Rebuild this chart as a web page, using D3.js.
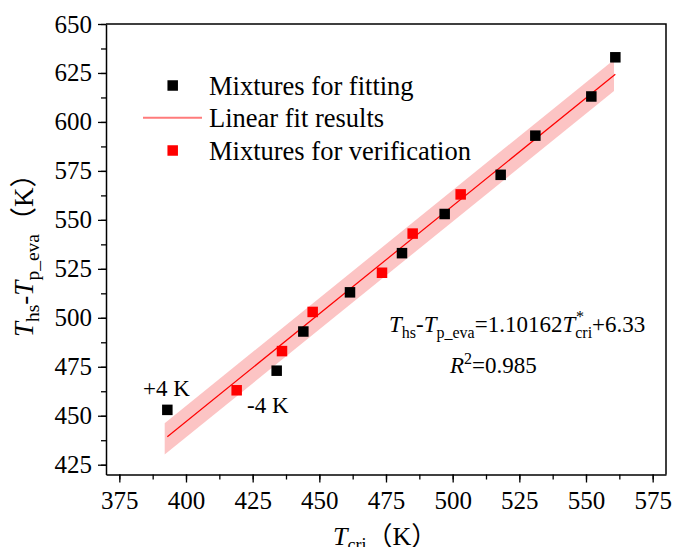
<!DOCTYPE html>
<html>
<head>
<meta charset="utf-8">
<script src="https://d3js.org/d3.v7.min.js"></script>
<style>
  body { margin: 0; background: #fff; }
  svg { font-family: "Liberation Serif", "Times New Roman", serif; }
</style>
</head>
<body>
<svg id="chart" width="673" height="547"></svg>
<script>
"use strict";

var width  = 673,
    height = 547;

// data
var fitX = [393, 434, 444, 461.5, 481, 497, 518, 531, 552, 561],
    fitY = [453, 473, 493, 513, 533, 553, 573, 593, 613, 633];
var verX = [419, 436, 447.5, 473.5, 485, 503],
    verY = [463, 483, 503, 523, 543, 563];
var slope = 1.10162, intercept = 6.33,
    fitRange = [393, 561],
    bandRange = [392, 560.5],
    bandHalf = 8;
var xTicks = [375, 400, 425, 450, 475, 500, 525, 550, 575],
    yTicks = [425, 450, 475, 500, 525, 550, 575, 600, 625, 650];
var legendLabels = ["Mixtures for fitting", "Linear fit results", "Mixtures for verification"];

var serif = "Liberation Serif";
var svg = d3.select("#chart");

var x = d3.scaleLinear().domain([370, 580]).range([106, 666]);
var y = d3.scaleLinear().domain([420, 650]).range([474.5, 24]);

function fit(v) { return slope * v + intercept; }

// band
var band = [
    [bandRange[0], fit(bandRange[0]) + bandHalf],
    [bandRange[1], fit(bandRange[1]) + bandHalf],
    [bandRange[1], fit(bandRange[1]) - bandHalf],
    [bandRange[0], fit(bandRange[0]) - bandHalf]
];
svg.append("path")
    .attr("d", d3.line().x(function(d) { return x(d[0]); }).y(function(d) { return y(d[1]); })(band) + "Z")
    .style("fill", "#fcc4c4");

svg.append("line")
    .attr("x1", x(fitRange[0])).attr("y1", y(fit(fitRange[0])))
    .attr("x2", x(fitRange[1])).attr("y2", y(fit(fitRange[1])))
    .style("stroke", "#ff0000")
    .style("stroke-width", 1.2);

// markers
var ms = 10.5;
svg.append("g").selectAll("rect")
    .data(fitX.map(function(d, i) { return [d, fitY[i]]; }))
    .enter().append("rect")
    .attr("x", function(d) { return x(d[0]) - ms / 2; })
    .attr("y", function(d) { return y(d[1]) - ms / 2; })
    .attr("width", ms).attr("height", ms)
    .style("fill", "#000");

svg.append("g").selectAll("rect")
    .data(verX.map(function(d, i) { return [d, verY[i]]; }))
    .enter().append("rect")
    .attr("x", function(d) { return x(d[0]) - ms / 2; })
    .attr("y", function(d) { return y(d[1]) - ms / 2; })
    .attr("width", ms).attr("height", ms)
    .style("fill", "#ff0000");

// axes
var xMinor = d3.range(375, 580, 12.5),
    yMinor = d3.range(425, 651, 12.5);

var xAxis = svg.append("g")
    .attr("transform", "translate(0," + y.range()[0] + ")")
    .call(d3.axisBottom(x).tickValues(xMinor).tickSize(5).tickFormat(""));
xAxis.select(".domain").remove();
var xAxisMajor = svg.append("g")
    .attr("transform", "translate(0," + y.range()[0] + ")")
    .call(d3.axisBottom(x).tickValues(xTicks).tickSize(8).tickPadding(9).tickSizeOuter(0))
    .attr("font-family", serif).attr("font-size", 25);
xAxisMajor.selectAll("text").attr("fill", "#000");

var yAxis = svg.append("g")
    .attr("transform", "translate(" + x.range()[0] + ",0)")
    .call(d3.axisLeft(y).tickValues(yMinor).tickSize(5).tickFormat(""));
yAxis.select(".domain").remove();
var yAxisMajor = svg.append("g")
    .attr("transform", "translate(" + x.range()[0] + ",0)")
    .call(d3.axisLeft(y).tickValues(yTicks).tickSize(8).tickPadding(6).tickSizeOuter(0))
    .attr("font-family", serif).attr("font-size", 25);
yAxisMajor.selectAll("text").attr("fill", "#000");

svg.selectAll(".tick line").style("stroke-width", 1.3);
svg.selectAll(".domain").style("stroke-width", 1.5);

// frame top and right
svg.append("path")
    .attr("d", "M" + x.range()[0] + "," + y.range()[1] + "H" + x.range()[1] + "V" + y.range()[0])
    .style("fill", "none").style("stroke", "#000").style("stroke-width", 1.5);

// legend
var legend = svg.append("g");
var rows = [85.5, 117.7, 150.5];
legend.append("rect").attr("x", 172.7 - ms / 2).attr("y", rows[0] - ms / 2).attr("width", ms).attr("height", ms).style("fill", "#000");
legend.append("line").attr("x1", 143).attr("x2", 202).attr("y1", rows[1]).attr("y2", rows[1])
    .style("stroke", "#ff7b7b").style("stroke-width", 2);
legend.append("rect").attr("x", 172.7 - ms / 2).attr("y", rows[2] - ms / 2).attr("width", ms).attr("height", ms).style("fill", "#ff0000");
legend.selectAll("text.lg")
    .data(legendLabels)
    .enter().append("text")
    .attr("class", "lg")
    .attr("x", 209)
    .attr("y", function(d, i) { return rows[i] + 9; })
    .style("font-size", "26.5px")
    .text(function(d) { return d; });

// equation
var eq = svg.append("text").attr("x", 389).attr("y", 332).style("font-size", "23px");
eq.append("tspan").style("font-style", "italic").text("T");
eq.append("tspan").attr("dy", 6).style("font-size", "16px").text("hs");
eq.append("tspan").attr("dy", -6).text("-");
eq.append("tspan").style("font-style", "italic").text("T");
eq.append("tspan").attr("dy", 6).style("font-size", "16px").text("p_eva");
eq.append("tspan").attr("dy", -6).text("=1.10162");
eq.append("tspan").style("font-style", "italic").text("T");
eq.append("tspan").attr("dy", -10).style("font-size", "16px").style("font-style", "italic").text("*");
eq.append("tspan").attr("dx", -8).attr("dy", 16).style("font-size", "16px").text("cri");
eq.append("tspan").attr("dy", -6).text("+6.33");

var r2 = svg.append("text").attr("x", 450).attr("y", 373).style("font-size", "23px");
r2.append("tspan").style("font-style", "italic").text("R");
r2.append("tspan").attr("dy", -9).style("font-size", "16px").text("2");
r2.append("tspan").attr("dy", 9).text("=0.985");

svg.append("text").attr("x", 143).attr("y", 396).style("font-size", "23px").text("+4 K");
svg.append("text").attr("x", 247).attr("y", 413).style("font-size", "23px").text("-4 K");

// axis titles
var xt = svg.append("text").attr("x", 333).attr("y", 545).style("font-size", "26px");
xt.append("tspan").style("font-style", "italic").text("T");
xt.append("tspan").attr("dy", 6).style("font-size", "18px").text("cri");
xt.append("tspan").attr("dy", -6).style("font-family", "Noto Sans CJK SC").text("（");
xt.append("tspan").text("K");
xt.append("tspan").style("font-family", "Noto Sans CJK SC").text("）");

var yt = svg.append("text").attr("transform", "translate(33,337) rotate(-90)").style("font-size", "27px");
yt.append("tspan").style("font-style", "italic").text("T");
yt.append("tspan").attr("dy", 6).style("font-size", "19.5px").text("hs");
yt.append("tspan").attr("dy", -6).text("-");
yt.append("tspan").style("font-style", "italic").text("T");
yt.append("tspan").attr("dy", 6).style("font-size", "19.5px").text("p_eva");
yt.append("tspan").attr("dy", -6).style("font-family", "Noto Sans CJK SC").text("（");
yt.append("tspan").text("K");
yt.append("tspan").style("font-family", "Noto Sans CJK SC").text("）");
</script>
</body>
</html>
